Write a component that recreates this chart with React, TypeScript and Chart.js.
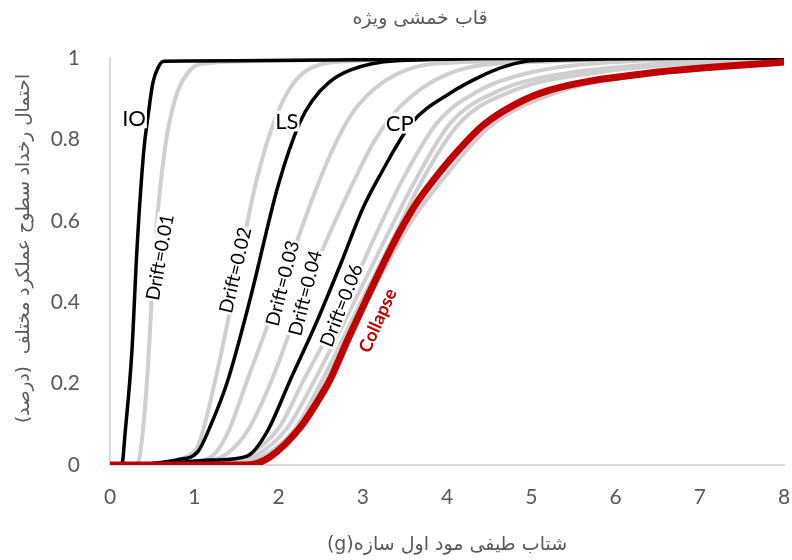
import { useEffect, useRef } from "react";
import { Chart, registerables } from "chart.js";

Chart.register(...registerables);

// Fragility curves: probability of exceeding each performance level vs. spectral acceleration (g)

// Performance levels (black)
const ioX = [0, 0.14, 0.18, 0.26, 0.32, 0.4, 0.45, 0.51, 0.58, 0.64, 1.5, 3.0, 4.5, 8];
const ioY = [0, 0, 0.08, 0.28, 0.53, 0.77, 0.855, 0.94, 0.98, 0.992, 0.993, 0.996, 1, 1];

const lsX = [0, 0.15, 0.5, 0.8, 1.04, 1.2, 1.4, 1.66, 2.0, 2.25, 2.4, 2.6, 2.85, 3.4, 5, 8];
const lsY = [0, 0, 0.004, 0.013, 0.032, 0.1, 0.209, 0.405, 0.69, 0.84, 0.895, 0.94, 0.97, 0.993, 0.999, 1];

const cpX = [0, 0.5, 1.2, 1.63, 1.86, 2.14, 2.45, 2.75, 3.0, 3.2, 3.58, 4.04, 4.4, 4.7, 5.0, 8];
const cpY = [0, 0.002, 0.012, 0.022, 0.08, 0.209, 0.35, 0.5, 0.63, 0.71, 0.84, 0.914, 0.955, 0.98, 0.993, 1];

// Collapse (red)
const collapseX = [0, 1.62, 1.9, 2.26, 2.45, 2.61, 2.82, 3.05, 3.25, 3.45, 3.65, 3.84, 4.1, 4.43, 4.8, 5.22, 6.41, 8];
const collapseY = [0, 0, 0.02, 0.093, 0.152, 0.209, 0.307, 0.41, 0.497, 0.578, 0.647, 0.7, 0.765, 0.835, 0.885, 0.921, 0.963, 0.99];

// Drift-ratio curves (grey)
const drift01X = [0, 0.3, 0.36, 0.44, 0.53, 0.65, 0.77, 0.95, 1.1, 1.6, 3, 8];
const drift01Y = [0, 0, 0.03, 0.209, 0.53, 0.774, 0.897, 0.97, 0.986, 0.992, 0.997, 1];

const drift02X = [0, 0.5, 0.9, 1.05, 1.25, 1.45, 1.74, 2.02, 2.34, 2.9, 4, 8];
const drift02Y = [0, 0.003, 0.02, 0.05, 0.209, 0.405, 0.7, 0.88, 0.97, 0.993, 0.998, 1];

const drift03X = [0, 0.8, 1.2, 1.4, 1.63, 1.98, 2.22, 2.45, 2.7, 2.93, 3.4, 4.2, 8];
const drift03Y = [0, 0.004, 0.02, 0.08, 0.209, 0.405, 0.55, 0.68, 0.8, 0.88, 0.96, 0.99, 1];

const drift04X = [0, 1.0, 1.4, 1.65, 1.92, 2.3, 2.62, 2.9, 3.15, 3.44, 4.0, 5.0, 8];
const drift04Y = [0, 0.005, 0.03, 0.09, 0.209, 0.42, 0.575, 0.7, 0.8, 0.88, 0.96, 0.99, 1];

const drift06X = [0, 1.2, 1.6, 2.0, 2.3, 2.8, 3.18, 3.47, 3.88, 4.39, 5.0, 6.0, 8];
const drift06Y = [0, 0.004, 0.02, 0.09, 0.209, 0.405, 0.577, 0.7, 0.84, 0.921, 0.965, 0.99, 1];

const drift07X = [0, 1.3, 1.7, 2.1, 2.43, 2.91, 3.32, 3.6, 4.04, 4.63, 5.5, 6.5, 8];
const drift07Y = [0, 0.004, 0.02, 0.09, 0.209, 0.405, 0.577, 0.69, 0.84, 0.921, 0.965, 0.985, 0.998];

const drift08X = [0, 1.4, 1.8, 2.2, 2.52, 2.99, 3.41, 3.68, 4.15, 4.8, 5.8, 7, 8];
const drift08Y = [0, 0.003, 0.02, 0.09, 0.209, 0.405, 0.577, 0.69, 0.84, 0.921, 0.965, 0.988, 0.995];

const drift10X = [0, 1.6, 1.9, 2.26, 2.53, 2.86, 3.15, 3.55, 3.98, 4.5, 5.3, 6.4, 8];
const drift10Y = [0, 0, 0.02, 0.093, 0.209, 0.33, 0.44, 0.59, 0.71, 0.83, 0.915, 0.96, 0.99];

const xTicks = [0, 1, 2, 3, 4, 5, 6, 7, 8];
const yTicks = [0, 0.2, 0.4, 0.6, 0.8, 1];

const titleText = "قاب خمشی ویژه";
const xTitleText = "\u202Bشتاب طیفی مود اول سازه(g)\u202C";
const yTitleText = "احتمال رخداد سطوح عملکرد مختلف  (درصد)";

const GREY = "#D0CECE";
const BLACK = "#000000";
const RED = "#C00000";
const TEXT = "#595959";
const LATIN = "Lato, 'DejaVu Sans', sans-serif";
const PERSIAN = "'DejaVu Sans', sans-serif";

const toPoints = (xs: number[], ys: number[]) => xs.map((x, i) => ({ x, y: ys[i] }));

// In-plot curve annotations, anchored in data coordinates
const curveLabels = [
  { text: "IO", x: 0.285, y: 0.853, angle: 0, color: BLACK, bold: false, size: 22 },
  { text: "LS", x: 2.1, y: 0.845, angle: 0, color: BLACK, bold: false, size: 22 },
  { text: "CP", x: 3.44, y: 0.84, angle: 0, color: BLACK, bold: false, size: 22 },
  { text: "Drift=0.01", x: 0.585, y: 0.511, angle: -80, color: BLACK, bold: false, size: 19 },
  { text: "Drift=0.02", x: 1.48, y: 0.479, angle: -77, color: BLACK, bold: false, size: 19 },
  { text: "Drift=0.03", x: 2.04, y: 0.447, angle: -76, color: BLACK, bold: false, size: 19 },
  { text: "Drift=0.04", x: 2.31, y: 0.423, angle: -76, color: BLACK, bold: false, size: 19 },
  { text: "Drift=0.06", x: 2.74, y: 0.393, angle: -69, color: BLACK, bold: false, size: 19 },
  { text: "Collapse", x: 3.17, y: 0.356, angle: -66, color: RED, bold: true, size: 18 },
];

// Chart title and vertical axis title (Persian, right-to-left)
const textPlugin = {
  id: "persianTitles",
  afterDraw(chart: any) {
    const { ctx, chartArea } = chart;
    ctx.save();
    ctx.direction = "rtl";
    ctx.fillStyle = TEXT;
    ctx.textAlign = "center";
    ctx.textBaseline = "middle";
    ctx.font = `19px ${PERSIAN}`;
    ctx.fillText(titleText, chartArea.left + chartArea.width * 0.46, 19);
    ctx.translate(24, chartArea.top + chartArea.height * 0.468);
    ctx.rotate(-Math.PI / 2);
    ctx.font = `18.5px ${PERSIAN}`;
    ctx.fillText(yTitleText, 0, 0);
    ctx.restore();
  },
};

const labelPlugin = {
  id: "curveLabels",
  afterDatasetsDraw(chart: any) {
    const { ctx, scales } = chart;
    ctx.save();
    for (const l of curveLabels) {
      const px = scales.x.getPixelForValue(l.x);
      const py = scales.y.getPixelForValue(l.y);
      ctx.save();
      ctx.translate(px, py);
      ctx.rotate((l.angle * Math.PI) / 180);
      ctx.font = `${l.bold ? "bold " : ""}${l.size}px ${LATIN}`;
      const w = ctx.measureText(l.text).width;
      const h = l.size * 0.95;
      ctx.fillStyle = "#ffffff";
      ctx.fillRect(-w / 2 - 1, -h / 2, w + 2, h);
      ctx.fillStyle = l.color;
      ctx.textAlign = "center";
      ctx.textBaseline = "middle";
      ctx.fillText(l.text, 0, 1);
      ctx.restore();
    }
    ctx.restore();
  },
};

const line = (label: string, xs: number[], ys: number[], color: string, width: number, order: number) => ({
  label,
  data: toPoints(xs, ys),
  borderColor: color,
  backgroundColor: color,
  borderWidth: width,
  pointRadius: 0,
  cubicInterpolationMode: "monotone" as const,
  fill: false,
  order,
});

export default function App() {
  const ref = useRef<HTMLCanvasElement>(null);

  useEffect(() => {
    if (!ref.current) return;
    const chart = new Chart(ref.current, {
      type: "line",
      data: {
        datasets: [
          line("Collapse", collapseX, collapseY, RED, 7, 0),
          line("IO", ioX, ioY, BLACK, 3.5, 1),
          line("LS", lsX, lsY, BLACK, 3.5, 1),
          line("CP", cpX, cpY, BLACK, 3.5, 1),
          line("Drift=0.01", drift01X, drift01Y, GREY, 4, 2),
          line("Drift=0.02", drift02X, drift02Y, GREY, 4, 2),
          line("Drift=0.03", drift03X, drift03Y, GREY, 4, 2),
          line("Drift=0.04", drift04X, drift04Y, GREY, 4, 2),
          line("Drift=0.06", drift06X, drift06Y, GREY, 4, 2),
          line("Drift=0.07", drift07X, drift07Y, GREY, 4, 2),
          line("Drift=0.08", drift08X, drift08Y, GREY, 4, 2),
          line("Drift=0.10", drift10X, drift10Y, GREY, 4, 2),
        ],
      },
      options: {
        responsive: false,
        animation: false,
        devicePixelRatio: 1,
        layout: { padding: { left: 0, right: 8, top: 58, bottom: 0 } },
        plugins: {
          legend: { display: false },
          tooltip: { enabled: false },
          title: { display: false },
        },
        scales: {
          x: {
            type: "linear",
            min: 0,
            max: 8,
            afterFit: (s: any) => {
              s.height = 95;
              s.paddingRight = 0;
              s.paddingLeft = 0;
            },
            afterBuildTicks: (s: any) => {
              s.ticks = xTicks.map((v) => ({ value: v }));
            },
            grid: { display: false },
            border: { display: true, color: "#D9D9D9", width: 2 },
            ticks: {
              color: TEXT,
              font: { family: LATIN, size: 21 },
              padding: 12,
              maxRotation: 0,
              callback: (v: any) => String(Number(v)),
            },
            title: {
              display: true,
              text: xTitleText,
              color: TEXT,
              font: { family: PERSIAN, size: 19 },
              padding: { top: 4, bottom: 4 },
            },
          },
          y: {
            type: "linear",
            min: 0,
            max: 1,
            afterFit: (s: any) => {
              s.width = 110;
            },
            afterBuildTicks: (s: any) => {
              s.ticks = yTicks.map((v) => ({ value: v }));
            },
            grid: { display: false },
            border: { display: true, color: "#D9D9D9", width: 2 },
            ticks: {
              color: TEXT,
              font: { family: LATIN, size: 21 },
              padding: 22,
              callback: (v: any) => String(Number(v)),
            },
          },
        },
      },
      plugins: [labelPlugin, textPlugin],
    });
    return () => chart.destroy();
  }, []);

  return (
    <div style={{ position: "fixed", left: 0, top: 0, width: 792, height: 560, background: "#ffffff" }}>
      <canvas ref={ref} width={792} height={560} style={{ display: "block" }} />
    </div>
  );
}
